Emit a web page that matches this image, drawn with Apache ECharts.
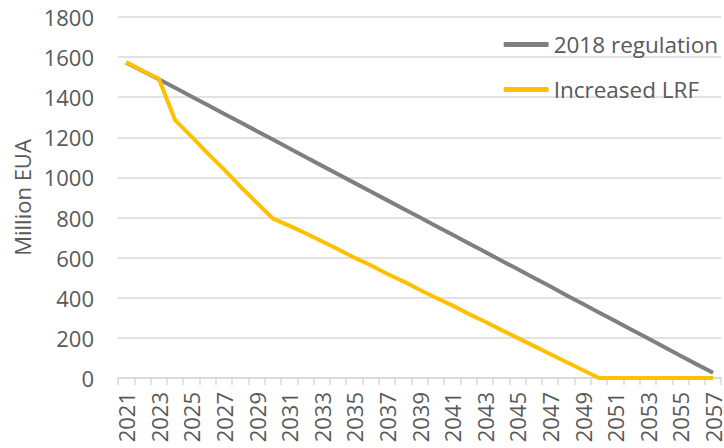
<!DOCTYPE html>
<html>
<head>
<meta charset="utf-8">
<script src="https://cdn.jsdelivr.net/npm/echarts@6/dist/echarts.min.js"></script>
<style>
	html, body { margin: 0; padding: 0; background: #fff; }
	#main { width: 724px; height: 448px; }
</style>
</head>
<body>
<div id="main"></div>
<script>
const years = [];
for (let y = 2021; y <= 2057; y++) years.push(String(y));

const regulation2018 = [
	1572, 1531, 1490, 1447, 1404, 1361, 1318, 1275, 1232, 1189,
	1146, 1102, 1059, 1016, 973, 930, 887, 844, 801, 758,
	715, 672, 629, 586, 543, 500, 457, 413, 370, 327,
	284, 241, 198, 155, 111, 68, 26
];
const increasedLRF = [
	1575, 1532, 1492, 1286, 1205, 1120, 1040, 955, 875, 795,
	760, 722, 682, 642, 600, 562, 520, 482, 440, 400,
	362, 320, 282, 240, 200, 160, 120, 80, 40, 0,
	0, 0, 0, 0, 0, 0, 0
];
const seriesNames = ["2018 regulation", "Increased LRF"];

const font = "Open Sans";
const textColor = "#595959";
const gridColor = "#d9d9d9";

let myCharts = echarts.init(document.getElementById("main"), null, { renderer: "svg" });
let option = {
	animation: false,
	textStyle: { fontFamily: font },
	legend: {
		orient: "vertical",
		right: 1,
		top: 28,
		itemGap: 22,
		itemWidth: 45,
		itemHeight: 5,
		icon: "roundRect",
		data: seriesNames,
		textStyle: { fontFamily: font, fontSize: 22.5, color: textColor },
	},
	grid: { left: 118, right: -3, top: 17, bottom: 70 },
	xAxis: {
		type: "category",
		data: years,
		boundaryGap: true,
		axisLine: { lineStyle: { color: gridColor, width: 1.5 } },
		axisTick: { show: true, interval: 0, length: 7, lineStyle: { color: gridColor, width: 1.5 } },
		axisLabel: {
			interval: 1,
			rotate: 90,
			margin: 14,
			fontFamily: font,
			fontSize: 22,
			color: textColor,
		},
	},
	yAxis: {
		type: "value",
		min: 0,
		max: 1800,
		interval: 200,
		name: "Million EUA",
		nameLocation: "middle",
		nameGap: 78,
		nameRotate: 90,
		nameTextStyle: { fontFamily: font, fontSize: 22, color: textColor },
		axisLine: { show: false },
		axisTick: { show: false },
		axisLabel: {
			margin: 24,
			fontFamily: font,
			fontSize: 22,
			color: textColor,
			formatter: (v) => String(v),
		},
		splitLine: { lineStyle: { color: gridColor, width: 1.5 } },
	},
	series: [
		{
			name: seriesNames[0],
			type: "line",
			data: regulation2018,
			symbol: "none",
			color: "#7f7f7f",
			lineStyle: { width: 4, color: "#7f7f7f" },
		},
		{
			name: seriesNames[1],
			type: "line",
			data: increasedLRF,
			symbol: "none",
			color: "#ffc000",
			lineStyle: { width: 4, color: "#ffc000" },
		},
	],
};
myCharts.setOption(option);
</script>
</body>
</html>
